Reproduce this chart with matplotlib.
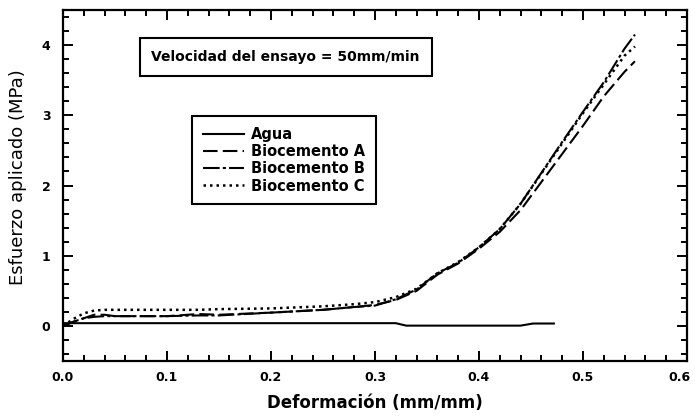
import matplotlib.pyplot as plt
from matplotlib.ticker import MultipleLocator
from matplotlib.transforms import ScaledTranslation

plt.rcParams['font.family'] = ['DejaVu Sans']

# Strain grid shared by the three biocement samples (mm/mm)
strain = [0.0, 0.01, 0.02, 0.03, 0.04, 0.05, 0.10, 0.13, 0.15, 0.20, 0.25, 0.28,
          0.30, 0.32, 0.34, 0.36, 0.38, 0.40, 0.42, 0.44, 0.46, 0.48, 0.50,
          0.52, 0.54, 0.55]

# Stress (MPa)
bio_a = [0.0, 0.06, 0.11, 0.16, 0.16, 0.14, 0.14, 0.17, 0.16, 0.19, 0.23, 0.27,
         0.30, 0.37, 0.50, 0.73, 0.89, 1.10, 1.34, 1.65, 2.05, 2.45, 2.85,
         3.27, 3.62, 3.77]
bio_b = [0.0, 0.06, 0.11, 0.13, 0.14, 0.14, 0.14, 0.15, 0.15, 0.19, 0.23, 0.27,
         0.29, 0.38, 0.52, 0.75, 0.90, 1.12, 1.38, 1.74, 2.18, 2.62, 3.05,
         3.47, 3.95, 4.15]
bio_c = [0.0, 0.10, 0.18, 0.22, 0.23, 0.23, 0.23, 0.23, 0.24, 0.25, 0.28, 0.31,
         0.34, 0.41, 0.53, 0.75, 0.91, 1.12, 1.38, 1.74, 2.17, 2.60, 3.03,
         3.44, 3.85, 3.98]

agua_strain = [0.0, 0.10, 0.20, 0.32, 0.33, 0.44, 0.452, 0.472]
agua = [0.04, 0.04, 0.04, 0.04, 0.005, 0.005, 0.035, 0.035]

xticks = [0.0, 0.1, 0.2, 0.3, 0.4, 0.5, 0.6]
yticks = [0, 1, 2, 3, 4]

fig = plt.figure(figsize=(6.96, 4.16), dpi=100)
ax = fig.add_axes([0.0905, 0.132, 0.8965, 0.844])

lw = 1.5
ax.plot(agua_strain, agua, color='black', lw=lw, linestyle='-', label='Agua')
ax.plot(strain, bio_a, color='black', lw=lw, dashes=(7, 2.5), label='Biocemento A')
ax.plot(strain, bio_b, color='black', lw=lw, dashes=(8, 1.5, 1.5, 1.5), label='Biocemento B')
ax.plot(strain, bio_c, color='black', lw=1.8, dashes=(1, 1.6), label='Biocemento C')

ax.set_xlim(0, 0.6)
ax.set_ylim(-0.5, 4.5)
ax.set_xticks(xticks, [f'{v:.1f}' for v in xticks])
ax.set_yticks(yticks, [str(v) for v in yticks])
ax.xaxis.set_minor_locator(MultipleLocator(0.02))
ax.yaxis.set_minor_locator(MultipleLocator(0.2))

ax.tick_params(which='both', direction='in', top=True, right=True, width=1.4)
ax.tick_params(which='major', length=7, labelsize=9)
ax.tick_params(which='minor', length=4)
ax.tick_params(axis='x', pad=7)
ax.tick_params(axis='y', pad=9)
for sp in ax.spines.values():
    sp.set_linewidth(1.6)

xlabels = ax.get_xticklabels()
for lab in xlabels + ax.get_yticklabels():
    lab.set_fontweight('bold')
# nudge the last x label so it stays inside the figure
xlabels[-1].set_transform(xlabels[-1].get_transform() +
                          ScaledTranslation(-8 / 100, 0, fig.dpi_scale_trans))

ax.set_xlabel('Deformación (mm/mm)', fontsize=12, fontweight='bold', labelpad=7)
ax.set_ylabel('Esfuerzo aplicado (MPa)', fontsize=13)
ax.yaxis.set_label_coords(-0.058, 0.524)

ax.text(0.357, 0.866, 'Velocidad del ensayo = 50mm/min', transform=ax.transAxes,
        ha='center', va='center', fontsize=10, fontweight='bold',
        bbox=dict(boxstyle='square,pad=0.85', fc='white', ec='black', lw=1.5))

leg = ax.legend(loc='upper left', bbox_to_anchor=(0.207, 0.698), fancybox=False,
                edgecolor='black', framealpha=1, handlelength=2.8,
                labelspacing=0.15, borderpad=0.75, handletextpad=0.5,
                borderaxespad=0, prop={'size': 10.5, 'weight': 'bold'})
leg.get_frame().set_linewidth(1.5)

fig.savefig('out.png', dpi=100)
